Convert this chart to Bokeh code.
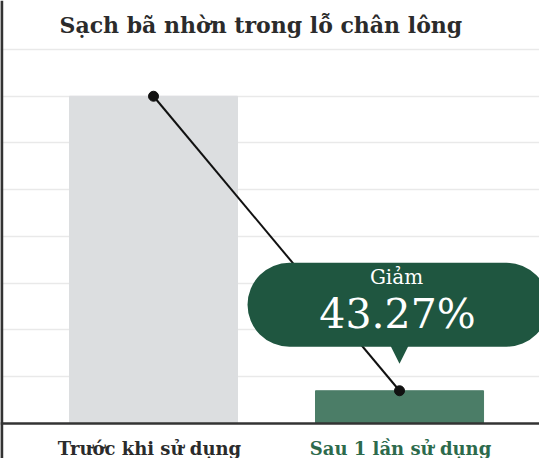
from bokeh.plotting import figure
from bokeh.models import Label, BoxAnnotation, Span, FixedTicker, ColumnDataSource
from bokeh.embed import file_html
from bokeh.resources import INLINE

# ---- data ----
categories = ["Trước khi sử dụng", "Sau 1 lần sử dụng"]
positions = [1, 2]
values = [7.0, 0.7]
bar_colors = ["#dcdee0", "#4b7d67"]
label_colors = ["#2b2b2b", "#2d6a4c"]
title_text = "Sạch bã nhờn trong lỗ chân lông"
callout_top = "Giảm"
callout_value = "43.27%"
grid_ticks = [1, 2, 3, 4, 5, 6, 7, 8]

FONT = "DejaVu Serif"

p = figure(width=539, height=458, output_backend="svg", toolbar_location=None,
           x_range=(0.378, 2.569), y_range=(-0.749, 9.048),
           min_border=0, min_border_left=0, min_border_right=0,
           min_border_top=0, min_border_bottom=0)
p.outline_line_color = None
p.xaxis.visible = False
p.yaxis.visible = False
p.xgrid.visible = False
p.ygrid.ticker = FixedTicker(ticks=grid_ticks)
p.ygrid.grid_line_color = "#e9e9e9"
p.ygrid.grid_line_width = 1.5
p.background_fill_color = "white"
p.border_fill_color = "white"

src = ColumnDataSource(dict(x=positions, top=values, color=bar_colors))
p.vbar(x="x", top="top", bottom=0, width=0.683, color="color", source=src)

# connecting line and dots
p.line(positions, values, line_color="#111111", line_width=2)
p.scatter(positions, values, size=10, color="#111111")

# axes lines
p.add_layout(Span(location=0, dimension="width", line_color="#333333", line_width=2.5))
p.add_layout(Span(location=0.383, dimension="height", line_color="#333333", line_width=3))

# callout pill
px_x = 1 / 246.0
px_y = 1 / 46.75
pill = BoxAnnotation(left=positions[1] - 152 * px_x, right=positions[1] + 149 * px_x,
                     top=values[1] + (398 - 270) * px_y, bottom=values[1] + (398 - 354) * px_y,
                     fill_color="#1f5640", fill_alpha=1.0, line_color=None,
                     border_radius=42)
p.add_layout(pill)
tri_top = values[1] + (398 - 353) * px_y
tri_bot = values[1] + (398 - 371) * px_y
p.patch([positions[1] - 9 * px_x, positions[1] + 9 * px_x, positions[1]],
        [tri_top, tri_top, tri_bot], color="#1f5640", line_color=None)

SHIFT = 0.45  # em, empirical baseline correction

def lab(x, y_page_offset, text, size, **kw):
    return Label(x=x, y=y_page_offset + SHIFT * size * px_y, text=text,
                 text_font=FONT, text_font_size=f"{size}px",
                 text_baseline="alphabetic", **kw)

p.add_layout(lab(positions[1] - 3 * px_x, values[1] + (398 - 293) * px_y, callout_top, 20,
                 text_color="white", text_align="center"))
p.add_layout(lab(positions[1] - 2 * px_x, values[1] + (398 - 340) * px_y, callout_value, 41,
                 text_color="white", text_align="center"))

# title
p.add_layout(lab(positions[0] - 94 * px_x, values[0] + (103 - 42) * px_y, title_text, 22,
                 text_font_style="bold", text_color="#2b2b2b"))

# category labels
for xpos, cat, col, dx in zip(positions, categories, label_colors, [-4, 1]):
    p.add_layout(lab(xpos + dx * px_x, -33 * px_y, cat, 18,
                     text_font_style="bold", text_color=col, text_align="center"))

open("out.html", "w").write(file_html(p, INLINE))
